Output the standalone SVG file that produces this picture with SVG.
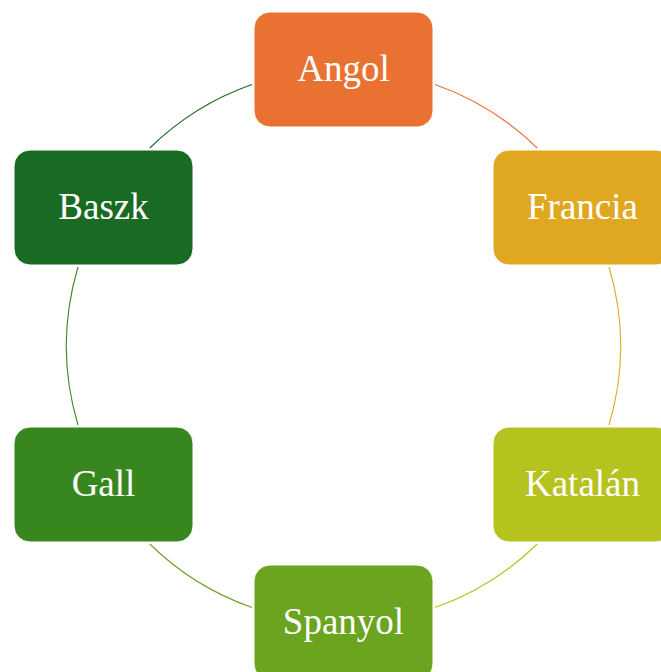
<svg xmlns="http://www.w3.org/2000/svg" width="661" height="672" viewBox="0 0 661 672">
<style>
.box{stroke:#ffffff;stroke-width:1}
.lbl{font-family:"Liberation Serif","Times New Roman",serif;font-size:37px;fill:#ffffff;text-anchor:middle}
.arc{fill:none;stroke-width:1.1}
</style>
<rect width="661" height="672" fill="#ffffff"/>
<g id="connectors">
<path class="arc" stroke="#E97132" d="M435,84.5 A277,277 0 0 1 537.2,148"/>
<path class="arc" stroke="#E0A820" d="M609,267 A277,277 0 0 1 609,425"/>
<path class="arc" stroke="#B6C21E" d="M537.2,544 A277,277 0 0 1 435,607.5"/>
<path class="arc" stroke="#6BA41F" d="M252,607.5 A277,277 0 0 1 149.8,544"/>
<path class="arc" stroke="#37871E" d="M78,425 A277,277 0 0 1 78,267"/>
<path class="arc" stroke="#196B24" d="M149.8,148 A277,277 0 0 1 252,84.5"/>
</g>
<g id="angol"><rect class="box" x="254" y="12" width="179" height="115" rx="16" fill="#E97233"/><text class="lbl" x="343.5" y="81">Angol</text></g>
<g id="francia"><rect class="box" x="493" y="150" width="179" height="115" rx="16" fill="#E0A820"/><text class="lbl" x="582.5" y="219">Francia</text></g>
<g id="katalan"><rect class="box" x="493" y="427" width="179" height="115" rx="16" fill="#B6C21E"/><text class="lbl" x="582.5" y="496">Katalán</text></g>
<g id="spanyol"><rect class="box" x="254" y="565" width="179" height="115" rx="16" fill="#6BA41F"/><text class="lbl" x="343.5" y="634">Spanyol</text></g>
<g id="gall"><rect class="box" x="14" y="427" width="179" height="115" rx="16" fill="#37871E"/><text class="lbl" x="103.5" y="496">Gall</text></g>
<g id="baszk"><rect class="box" x="14" y="150" width="179" height="115" rx="16" fill="#196B24"/><text class="lbl" x="103.5" y="219">Baszk</text></g>
</svg>
